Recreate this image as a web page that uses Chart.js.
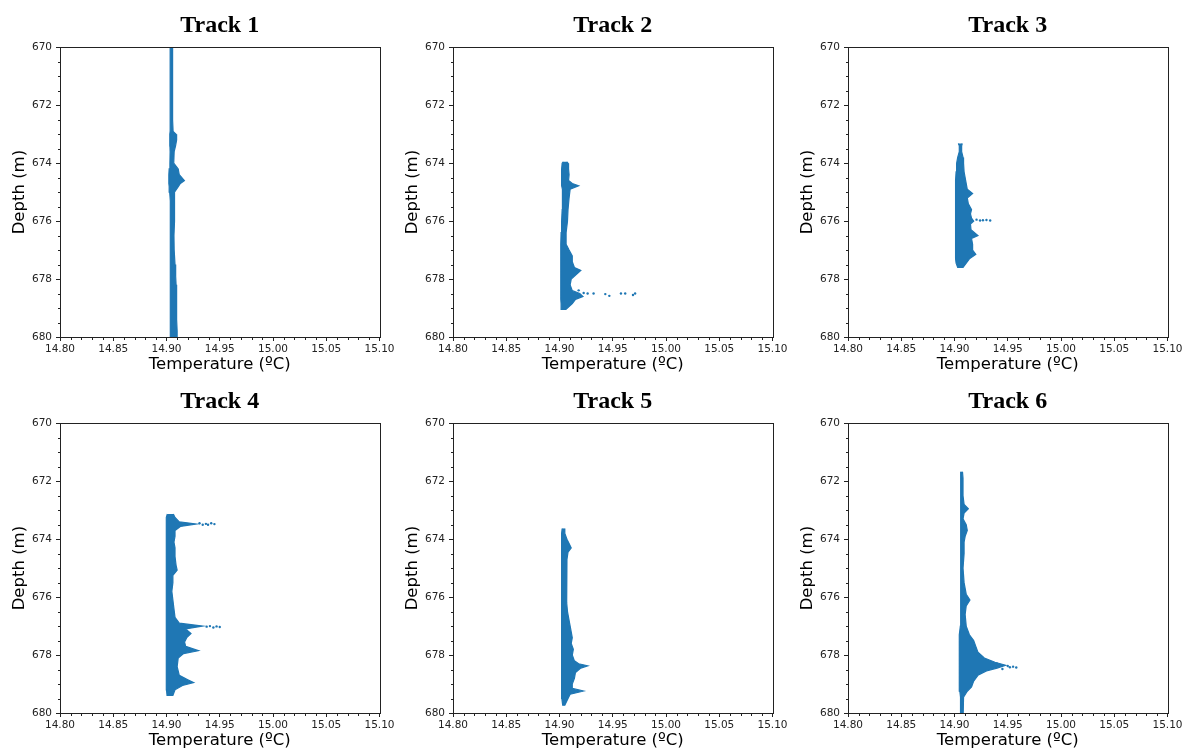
<!DOCTYPE html>
<html>
<head>
<meta charset="utf-8">
<script src="https://cdn.jsdelivr.net/npm/chart.js@4.4.0/dist/chart.umd.min.js"></script>
<style>
  html, body { margin: 0; padding: 0; background: #fff; width: 1184px; height: 751px; overflow: hidden; }
  .panel { position: absolute; width: 400px; height: 379px; }
</style>
</head>
<body>
<div class="panel" style="left:0px;top:0px"><canvas id="c1"></canvas></div>
<div class="panel" style="left:393px;top:0px"><canvas id="c2"></canvas></div>
<div class="panel" style="left:788px;top:0px"><canvas id="c3"></canvas></div>
<div class="panel" style="left:0px;top:376px"><canvas id="c4"></canvas></div>
<div class="panel" style="left:393px;top:376px"><canvas id="c5"></canvas></div>
<div class="panel" style="left:788px;top:376px"><canvas id="c6"></canvas></div>
<script>
// axis ticks
const xTicks = [14.80, 14.85, 14.90, 14.95, 15.00, 15.05, 15.10];
const yTicks = [670, 672, 674, 676, 678, 680];

// band outline per track: depth (m), left / right edge temperature (ºC)
const track1Depth = [670.0, 670.5, 671.0, 671.5, 672.0, 672.5, 672.9, 673.0, 673.2, 673.4, 673.6, 674.0, 674.2, 674.4, 674.6, 674.7, 674.8, 675.0, 675.3, 675.6, 676.0, 676.5, 677.0, 677.5, 677.9, 678.2, 678.6, 679.0, 679.4, 679.8, 680.3];
const track1Left  = [14.9033, 14.9034, 14.9034, 14.9035, 14.9035, 14.9035, 14.9034, 14.9032, 14.9030, 14.9032, 14.9034, 14.9032, 14.9025, 14.9022, 14.9022, 14.9022, 14.9025, 14.9030, 14.9033, 14.9034, 14.9034, 14.9035, 14.9036, 14.9036, 14.9035, 14.9036, 14.9037, 14.9037, 14.9038, 14.9038, 14.9038];
const track1Right = [14.9056, 14.9055, 14.9058, 14.9055, 14.9058, 14.9060, 14.9062, 14.9090, 14.9095, 14.9085, 14.9072, 14.9068, 14.9110, 14.9120, 14.9168, 14.9130, 14.9112, 14.9075, 14.9078, 14.9072, 14.9076, 14.9070, 14.9072, 14.9080, 14.9086, 14.9090, 14.9095, 14.9094, 14.9096, 14.9100, 14.9100];
const track1DotTemp = [];
const track1DotDepth = [];

const track2Depth = [673.95, 674.0, 674.2, 674.4, 674.6, 674.7, 674.78, 674.9, 675.2, 675.6, 676.0, 676.4, 676.8, 677.0, 677.2, 677.4, 677.6, 677.7, 677.8, 678.0, 678.2, 678.4, 678.5, 678.6, 678.7, 678.85, 679.05];
const track2Left  = [14.9035, 14.9025, 14.9020, 14.9020, 14.9020, 14.9020, 14.9020, 14.9025, 14.9030, 14.9025, 14.9020, 14.9015, 14.9012, 14.9012, 14.9012, 14.9012, 14.9012, 14.9012, 14.9012, 14.9012, 14.9012, 14.9012, 14.9012, 14.9012, 14.9012, 14.9015, 14.9020];
const track2Right = [14.9070, 14.9080, 14.9085, 14.9090, 14.9085, 14.9120, 14.9180, 14.9100, 14.9090, 14.9080, 14.9075, 14.9062, 14.9062, 14.9090, 14.9120, 14.9120, 14.9140, 14.9200, 14.9170, 14.9110, 14.9100, 14.9120, 14.9190, 14.9220, 14.9150, 14.9120, 14.9060];
const track2DotTemp  = [14.918, 14.9227, 14.9264, 14.932, 14.943, 14.9468, 14.9577, 14.9617, 14.969, 14.971];
const track2DotDepth = [678.39, 678.48, 678.50, 678.50, 678.52, 678.58, 678.50, 678.50, 678.55, 678.50];

const track3Depth = [673.32, 673.4, 673.6, 673.8, 674.0, 674.3, 674.6, 674.9, 675.05, 675.2, 675.4, 675.6, 675.75, 675.9, 676.0, 676.1, 676.3, 676.5, 676.6, 676.8, 677.0, 677.15, 677.3, 677.45, 677.6];
const track3Left  = [14.9036, 14.9045, 14.9045, 14.9030, 14.9020, 14.9015, 14.9010, 14.9010, 14.9010, 14.9010, 14.9010, 14.9010, 14.9010, 14.9010, 14.9010, 14.9010, 14.9010, 14.9010, 14.9010, 14.9010, 14.9010, 14.9010, 14.9010, 14.9015, 14.9030];
const track3Right = [14.9073, 14.9067, 14.9067, 14.9080, 14.9085, 14.9090, 14.9105, 14.9120, 14.9170, 14.9120, 14.9130, 14.9160, 14.9150, 14.9160, 14.9180, 14.9150, 14.9155, 14.9220, 14.9160, 14.9170, 14.9170, 14.9200, 14.9140, 14.9110, 14.9080];
const track3DotTemp  = [14.9207, 14.924, 14.9267, 14.930, 14.9335];
const track3DotDepth = [675.95, 675.98, 675.97, 675.96, 675.98];

const track4Depth = [673.13, 673.25, 673.4, 673.48, 673.56, 673.7, 673.9, 674.1, 674.3, 674.6, 674.9, 675.07, 675.25, 675.5, 675.8, 676.1, 676.4, 676.7, 676.9, 677.0, 677.1, 677.26, 677.4, 677.55, 677.7, 677.85, 677.95, 678.1, 678.4, 678.7, 678.85, 678.95, 679.05, 679.2, 679.39];
const track4Left  = [14.9008, 14.9000, 14.9000, 14.9000, 14.9000, 14.8998, 14.8998, 14.8998, 14.8998, 14.8998, 14.8998, 14.8998, 14.8998, 14.8998, 14.8998, 14.8998, 14.8998, 14.8998, 14.8998, 14.8998, 14.8998, 14.8998, 14.8998, 14.8998, 14.8998, 14.8998, 14.8998, 14.8998, 14.8998, 14.8998, 14.8998, 14.8998, 14.8998, 14.9000, 14.9005];
const track4Right = [14.9064, 14.9080, 14.9120, 14.9280, 14.9130, 14.9080, 14.9080, 14.9070, 14.9080, 14.9080, 14.9090, 14.9100, 14.9060, 14.9060, 14.9050, 14.9060, 14.9070, 14.9080, 14.9120, 14.9340, 14.9180, 14.9230, 14.9190, 14.9170, 14.9180, 14.9300, 14.9160, 14.9110, 14.9100, 14.9120, 14.9200, 14.9255, 14.9150, 14.9080, 14.9060];
const track4DotTemp  = [14.931, 14.934, 14.937, 14.939, 14.942, 14.945, 14.9377, 14.9408, 14.944, 14.947, 14.950];
const track4DotDepth = [673.45, 673.50, 673.47, 673.50, 673.45, 673.48, 677.02, 677.00, 677.05, 677.01, 677.03];

const track5Depth = [673.63, 673.8, 674.0, 674.15, 674.3, 674.45, 674.7, 675.0, 675.4, 675.8, 676.2, 676.5, 676.8, 677.0, 677.2, 677.4, 677.6, 677.8, 678.0, 678.2, 678.3, 678.37, 678.45, 678.6, 678.8, 679.0, 679.15, 679.24, 679.35, 679.5, 679.73];
const track5Left  = [14.9025, 14.9020, 14.9020, 14.9020, 14.9020, 14.9020, 14.9020, 14.9020, 14.9020, 14.9020, 14.9020, 14.9020, 14.9020, 14.9020, 14.9020, 14.9020, 14.9020, 14.9020, 14.9020, 14.9020, 14.9020, 14.9020, 14.9020, 14.9020, 14.9020, 14.9020, 14.9020, 14.9020, 14.9020, 14.9022, 14.9030];
const track5Right = [14.9045, 14.9050, 14.9070, 14.9090, 14.9110, 14.9080, 14.9070, 14.9065, 14.9065, 14.9070, 14.9070, 14.9075, 14.9090, 14.9100, 14.9110, 14.9120, 14.9110, 14.9130, 14.9120, 14.9140, 14.9180, 14.9265, 14.9200, 14.9150, 14.9140, 14.9120, 14.9120, 14.9225, 14.9100, 14.9080, 14.9050];
const track5DotTemp = [];
const track5DotDepth = [];

const track6Depth = [671.67, 671.9, 672.2, 672.5, 672.8, 672.95, 673.1, 673.3, 673.5, 673.7, 673.9, 674.1, 674.5, 675.0, 675.5, 675.9, 676.1, 676.3, 676.6, 677.0, 677.3, 677.5, 677.7, 677.9, 678.1, 678.25, 678.35, 678.45, 678.55, 678.7, 678.9, 679.1, 679.25, 679.45, 679.7, 680.3];
const track6Left  = [14.9060, 14.9058, 14.9058, 14.9058, 14.9058, 14.9058, 14.9058, 14.9058, 14.9058, 14.9058, 14.9058, 14.9058, 14.9058, 14.9058, 14.9058, 14.9058, 14.9058, 14.9058, 14.9058, 14.9055, 14.9045, 14.9045, 14.9045, 14.9045, 14.9045, 14.9045, 14.9045, 14.9045, 14.9045, 14.9045, 14.9045, 14.9045, 14.9050, 14.9055, 14.9058, 14.9058];
const track6Right = [14.9075, 14.9080, 14.9080, 14.9080, 14.9090, 14.9130, 14.9090, 14.9080, 14.9110, 14.9120, 14.9100, 14.9090, 14.9090, 14.9080, 14.9090, 14.9110, 14.9145, 14.9110, 14.9100, 14.9110, 14.9140, 14.9180, 14.9200, 14.9220, 14.9280, 14.9380, 14.9480, 14.9400, 14.9300, 14.9220, 14.9180, 14.9160, 14.9120, 14.9085, 14.9080, 14.9080];
const track6DotTemp  = [14.940, 14.945, 14.950, 14.952, 14.955, 14.958];
const track6DotDepth = [678.30, 678.48, 678.38, 678.42, 678.40, 678.43];

const BLUE = '#1f77b4';
const AXIS = '#222';

const tracks = [
  { id: 'c1', title: 'Track 1', depth: track1Depth, left: track1Left, right: track1Right, dotT: track1DotTemp, dotD: track1DotDepth },
  { id: 'c2', title: 'Track 2', depth: track2Depth, left: track2Left, right: track2Right, dotT: track2DotTemp, dotD: track2DotDepth },
  { id: 'c3', title: 'Track 3', depth: track3Depth, left: track3Left, right: track3Right, dotT: track3DotTemp, dotD: track3DotDepth },
  { id: 'c4', title: 'Track 4', depth: track4Depth, left: track4Left, right: track4Right, dotT: track4DotTemp, dotD: track4DotDepth },
  { id: 'c5', title: 'Track 5', depth: track5Depth, left: track5Left, right: track5Right, dotT: track5DotTemp, dotD: track5DotDepth },
  { id: 'c6', title: 'Track 6', depth: track6Depth, left: track6Left, right: track6Right, dotT: track6DotTemp, dotD: track6DotDepth },
];

// right edge going down, then left edge back up -> closed band
function outline(t) {
  const pts = t.depth.map((d, i) => ({ x: t.right[i], y: d }));
  for (let i = t.depth.length - 1; i >= 0; i--) pts.push({ x: t.left[i], y: t.depth[i] });
  return pts;
}

// box around the plot and the small minor ticks
const frame = {
  id: 'frame',
  afterDraw(chart) {
    const { ctx, chartArea: a, scales: { x, y } } = chart;
    const L = Math.round(a.left) + 0.5, R = Math.round(a.right) + 0.5;
    const T = Math.round(a.top) + 0.5, B = Math.round(a.bottom) + 0.5;
    ctx.save();
    ctx.strokeStyle = AXIS;
    ctx.lineWidth = 1;
    ctx.strokeRect(L, T, R - L, B - T);
    ctx.beginPath();
    for (let i = 1; i < 30; i++) {
      if (i % 5 === 0) continue;
      const px = Math.round(x.getPixelForValue(14.8 + i * 0.01)) + 0.5;
      ctx.moveTo(px, B);
      ctx.lineTo(px, B + 2.5);
    }
    for (let i = 1; i < 20; i++) {
      if (i % 4 === 0) continue;
      const py = Math.round(y.getPixelForValue(670 + i * 0.5)) + 0.5;
      ctx.moveTo(L, py);
      ctx.lineTo(L - 2.5, py);
    }
    ctx.stroke();
    ctx.restore();
  }
};

const tickFont = { family: 'DejaVu Sans', size: 10.5 };
const labelFont = { family: 'DejaVu Sans', size: 16.5 };

tracks.forEach(t => {
  new Chart(document.getElementById(t.id), {
    type: 'line',
    data: {
      datasets: [
        {
          data: outline(t),
          borderColor: BLUE,
          backgroundColor: BLUE,
          borderWidth: 1.2,
          fill: 'shape',
          pointRadius: 0,
          tension: 0
        },
        {
          data: t.dotT.map((v, i) => ({ x: v, y: t.dotD[i] })),
          showLine: false,
          pointRadius: 1.2,
          pointBorderWidth: 0,
          backgroundColor: BLUE,
          borderColor: BLUE
        }
      ]
    },
    options: {
      responsive: true,
      maintainAspectRatio: false,
      animation: false,
      layout: { padding: { left: 0, right: 20.5, top: 0, bottom: 0 } },
      plugins: {
        legend: { display: false },
        tooltip: { enabled: false },
        title: {
          display: true,
          text: t.title,
          fullSize: false,
          color: '#000',
          font: { family: 'Liberation Serif', size: 24, weight: 'bold' },
          padding: { top: 11.5, bottom: 7 }
        }
      },
      scales: {
        x: {
          type: 'linear',
          min: 14.8,
          max: 15.1,
          afterBuildTicks: s => { s.ticks = xTicks.map(v => ({ value: v })); },
          afterFit: s => { s.height = 42; },
          grid: { drawOnChartArea: false, tickLength: 4, color: AXIS },
          border: { display: false },
          ticks: { padding: 2, color: AXIS, font: tickFont, maxRotation: 0, autoSkip: false, callback: v => v.toFixed(2) },
          title: { display: true, text: 'Temperature (ºC)', color: '#000', font: labelFont, padding: { top: 0, bottom: 4 } }
        },
        y: {
          type: 'linear',
          reverse: true,
          min: 670,
          max: 680,
          afterBuildTicks: s => { s.ticks = yTicks.map(v => ({ value: v })); },
          afterFit: s => { s.width = 60; },
          grid: { drawOnChartArea: false, tickLength: 4, color: AXIS },
          border: { display: false },
          ticks: { padding: 4, color: AXIS, font: tickFont, callback: v => String(v) },
          title: { display: true, text: 'Depth (m)', color: '#000', font: labelFont, padding: { top: 9.5, bottom: 0 } }
        }
      }
    },
    plugins: [frame]
  });
});
</script>
</body>
</html>
